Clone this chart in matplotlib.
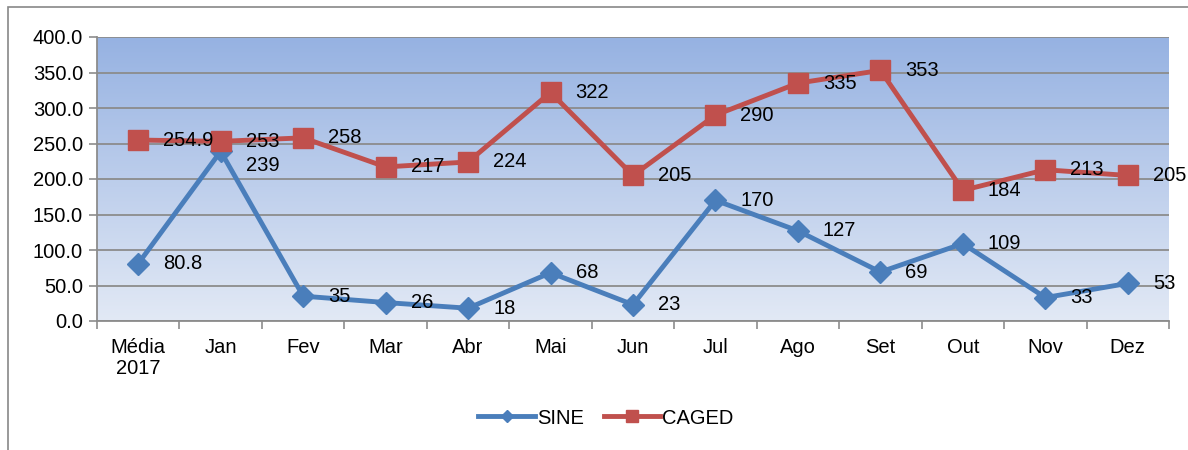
import numpy as np
import matplotlib.pyplot as plt
from matplotlib.colors import LinearSegmentedColormap
from matplotlib.patches import Rectangle

plt.rcParams['font.family'] = ['Liberation Sans', 'DejaVu Sans']

categories = ["Média\n2017", "Jan", "Fev", "Mar", "Abr", "Mai", "Jun",
              "Jul", "Ago", "Set", "Out", "Nov", "Dez"]
sine = [80.8, 239, 35, 26, 18, 68, 23, 170, 127, 69, 109, 33, 53]
caged = [254.9, 253, 258, 217, 224, 322, 205, 290, 335, 353, 184, 213, 205]
sine_labels = ["80.8", "239", "35", "26", "18", "68", "23", "170", "127", "69", "109", "33", "53"]
caged_labels = ["254.9", "253", "258", "217", "224", "322", "205", "290", "335", "353", "184", "213", "205"]
yticks = [0, 50, 100, 150, 200, 250, 300, 350, 400]

blue = "#4A7EBB"
red = "#C0504D"
fs = 14.5

fig = plt.figure(figsize=(11.88, 4.5), dpi=100)
ax = fig.add_axes([97 / 1188, 1 - 321 / 450, (1169 - 97) / 1188, (321 - 37) / 450])

# outer chart border (only left and top visible in reference)
fig.patches.append(Rectangle((8 / 1188, -0.1), 1.2, 1 - 7 / 450 + 0.1, transform=fig.transFigure,
                             fill=False, edgecolor="#888888", lw=1.2))

x = np.arange(len(categories))
ax.set_xlim(-0.5, len(categories) - 0.5)
ax.set_ylim(0, 400)

# gradient background
cmap = LinearSegmentedColormap.from_list("bg", ["#E2E9F5", "#96B2E2"])
grad = np.linspace(0, 1, 256).reshape(-1, 1)
ax.imshow(grad, cmap=cmap, aspect="auto", origin="lower",
          extent=(-0.5, len(categories) - 0.5, 0, 400), zorder=0)

ax.set_yticks(yticks)
ax.set_yticklabels([f"{v:.1f}" for v in yticks], fontsize=fs)
ax.yaxis.grid(True, color="#8C8C8C", lw=1.3, zorder=1)
ax.set_axisbelow(False)

ax.set_xticks(x)
ax.set_xticklabels(categories, fontsize=fs, linespacing=1.15)
ax.tick_params(axis="x", length=0, pad=12)
ax.set_xticks(np.arange(-0.5, len(categories)), minor=True)
ax.tick_params(axis="x", which="minor", length=6, color="#8C8C8C", width=1.2)
ax.tick_params(axis="y", length=6, color="#8C8C8C", width=1.2, pad=4)

for s in ["top", "right"]:
    ax.spines[s].set_visible(False)
for s in ["left", "bottom"]:
    ax.spines[s].set_color("#8C8C8C")
    ax.spines[s].set_linewidth(1.3)

ax.plot(x, sine, color=blue, lw=3.5, marker="D", markersize=11, label="SINE", zorder=3)
ax.plot(x, caged, color=red, lw=3.5, marker="s", markersize=14, label="CAGED", zorder=3)

for i in range(len(x)):
    dy = -10 if i == 1 else 0
    ax.annotate(sine_labels[i], (x[i], sine[i]), xytext=(18, dy), textcoords="offset points",
                va="center", ha="left", fontsize=fs, zorder=4, annotation_clip=False)
    ax.annotate(caged_labels[i], (x[i], caged[i]), xytext=(18, 0), textcoords="offset points",
                va="center", ha="left", fontsize=fs, zorder=4, annotation_clip=False)

leg = fig.legend(loc="center", bbox_to_anchor=(606 / 1188, 1 - 418 / 450), ncol=2,
                 frameon=False, fontsize=fs, handlelength=2.8, columnspacing=1.0,
                 handletextpad=0.1, markerscale=0.6)

fig.savefig("out.png", dpi=100)
